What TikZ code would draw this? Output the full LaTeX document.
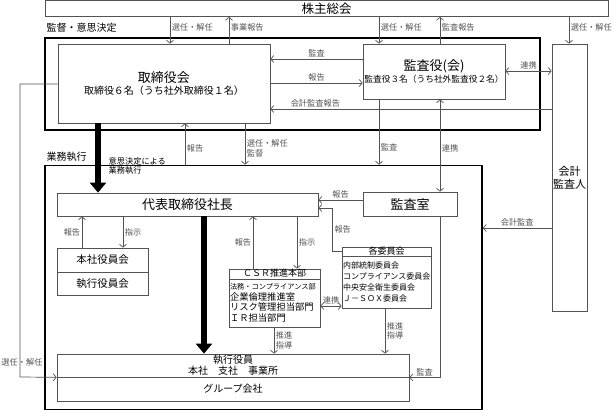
\documentclass[tikz,border=0pt]{standalone}
\usepackage{fontspec}
\setmainfont{Noto Sans CJK JP}
\usetikzlibrary{arrows.meta}

\colorlet{lc}{gray!65!black}
\tikzset{
  box/.style={draw=lc, line width=.7pt, inner sep=0pt, align=center},
  frm/.style={draw=black, line width=1.6pt, inner sep=0pt},
  lbl/.style={font=\fontsize{8.2}{9.5}\selectfont, inner sep=1.5pt, align=left},
  arr/.style={lc, line width=.7pt, -{Straight Barb[length=3pt,width=7pt]}},
  darr/.style={lc, line width=.7pt, {Straight Barb[length=3pt,width=7pt]}-{Straight Barb[length=3pt,width=7pt]}},
  fat/.style={black, line width=6pt, -{Triangle[length=10pt,width=16pt]}},
  big/.style={font=\fontsize{13}{15}\selectfont},
  mid/.style={font=\fontsize{10}{11}\selectfont},
}

\begin{document}
\begin{tikzpicture}[x=1pt,y=-1pt]
  \useasboundingbox (0,0) rectangle (614,411);
  % frames
  \node[frm, minimum width=495pt, minimum height=92pt] (kantoku) at (292.5,84) {};
  \node[lbl, anchor=west, font=\fontsize{10}{12}\selectfont] (kantokuL) at (45,28) {監督・意思決定};
  \node[frm, minimum width=437pt, minimum height=244pt] (gyomu) at (263.5,287.5) {};
  \node[lbl, anchor=west, font=\fontsize{10}{12}\selectfont] (gyomuL) at (45,157) {業務執行};
  \node[lbl, anchor=west] (ishiL) at (107,166) {意思決定による\\業務執行};
  % boxes
  \node[box, font=\fontsize{12.5}{14}\selectfont, minimum width=563pt, minimum height=16pt] (kabu) at (326.5,8.5) {株主総会};
  \node[box, minimum width=212pt, minimum height=79pt] (tori) at (164,83.5)
    {{\fontsize{13}{15}\selectfont 取締役会}\\{\fontsize{10}{12}\selectfont 取締役６名（うち社外取締役１名）}};
  \node[box, minimum width=142pt, minimum height=55pt] (kansayaku) at (434,71.5)
    {{\fontsize{13}{15}\selectfont 監査役(会)}\\{\fontsize{8.7}{11}\selectfont 監査役３名（うち社外監査役２名）}};
  \node[box, font=\fontsize{11}{13}\selectfont, minimum width=35pt, minimum height=267pt] (kaikei) at (569.5,177.5) {会計\\監査人};
  \node[box, big, minimum width=261pt, minimum height=23pt] (daihyo) at (187.5,204.5) {代表取締役社長};
  \node[box, big, minimum width=94pt, minimum height=24pt] (kansashitsu) at (410,204) {監査室};
  \node[box, font=\fontsize{10.5}{12}\selectfont, minimum width=91pt, minimum height=24pt] (honsha) at (102.5,260) {本社役員会};
  \node[box, font=\fontsize{10.5}{12}\selectfont, minimum width=91pt, minimum height=23pt] (shikko) at (102.5,283.5) {執行役員会};
  \node[box, font=\fontsize{9}{10}\selectfont, text height=7pt, text depth=1pt, minimum width=91pt, minimum height=10pt] (csrT) at (274.5,274) {ＣＳＲ推進本部};
  \node[box, font=\fontsize{9.3}{10.5}\selectfont, align=left, text width=89pt, minimum width=91pt, minimum height=48pt] (csrB) at (274.5,303)
    {{\fontsize{7.2}{8}\selectfont 法務・コンプライアンス部}\\企業倫理推進室\\リスク管理担当部門\\ＩＲ担当部門};
  \node[box, font=\fontsize{9}{10}\selectfont, text height=7pt, text depth=1pt, minimum width=89pt, minimum height=9pt] (iinT) at (386.5,251.5) {各委員会};
  \node[box, font=\fontsize{8}{10.7}\selectfont, align=left, text width=87pt, minimum width=89pt, minimum height=52pt] (iinB) at (386.5,282)
    {内部統制委員会\\コンプライアンス委員会\\中央安全衛生委員会\\Ｊ－ＳＯＸ委員会};
  \node[box, mid, minimum width=352pt, minimum height=23pt] (yakuin) at (233,365.5) {執行役員\\本社　支社　事業所};
  \node[box, mid, minimum width=352pt, minimum height=24pt] (group) at (233,389) {グループ会社};

  % connectors
  \path[arr]
    (kabu.south -| 170,0) edge node[lbl, right, pos=.4] {選任・解任} (tori.north -| 170,0)
    (tori.north -| 229,0) edge node[lbl, right, pos=.6] {事業報告} (kabu.south -| 229,0)
    (kabu.south -| 379,0) edge node[lbl, right, pos=.4] {選任・解任} (kansayaku.north -| 379,0)
    (kansayaku.north -| 440,0) edge node[lbl, right, pos=.6] {監査報告} (kabu.south -| 440,0)
    (kabu.south -| 569,0) edge node[lbl, right, pos=.4] {選任・解任} (kaikei.north -| 569,0)
    (kansayaku.west |- 0,59) edge node[lbl, above] {監査} (tori.east |- 0,59)
    (tori.east |- 0,83) edge node[lbl, above] {報告} (kansayaku.west |- 0,83)
    (kaikei.west |- 0,109) edge node[lbl, above, pos=.84] {会計監査報告} (tori.east |- 0,109)
    (gyomu.north -| 185,0) edge node[lbl, right, pos=.4] {報告} (tori.south -| 185,0)
    (tori.south -| 245,0) edge node[lbl, right, pos=.6] {選任・解任\\監督} (gyomu.north -| 245,0)
    (kansayaku.south -| 379,0) edge node[lbl, right, pos=.74] {監査} (gyomu.north -| 379,0)
    (kansashitsu.west |- 0,200) edge node[lbl, above] {報告} (daihyo.east |- 0,200)
    (kaikei.west |- 0,228) edge node[lbl, above] {会計監査} (gyomu.east |- 0,228)
    (honsha.north -| 82,0) edge node[lbl, left] {報告} (daihyo.south -| 82,0)
    (daihyo.south -| 123,0) edge node[lbl, right] {指示} (honsha.north -| 123,0)
    (csrT.north -| 253,0) edge node[lbl, left] {報告} (daihyo.south -| 253,0)
    (daihyo.south -| 297,0) edge node[lbl, right] {指示} (csrT.north -| 297,0)
    (csrB.south -| 274,0) edge node[lbl, right] {推進\\指導} (yakuin.north -| 274,0)
    (iinB.south -| 385,0) edge node[lbl, right] {推進\\指導} (yakuin.north -| 385,0);
  \path[darr]
    (kansayaku.east |- 0,71) edge node[lbl, above] {連携} (kaikei.west |- 0,71)
    (kansayaku.south -| 440,0) edge node[lbl, right, pos=.53] {連携} (kansashitsu.north -| 440,0)
    (csrB.east |- 0,306) edge node[lbl, above] {連携} (iinB.west |- 0,306);
  \draw[arr] (iinT.west) -- ++(-9,0) -- node[lbl, right] {報告} ++(0,-43.5) -- (daihyo.east |- 0,208);
  \draw[arr] (kansashitsu.south -| 440,0) |- node[lbl, above, pos=.75] {監査} (yakuin.south east);
  \draw[arr] (tori.west |- 0,84) -- (20,84) -- node[lbl, pos=.95, xshift=2pt] {選任・解任} (20,377) -- (yakuin.south west);
  \draw[fat] (tori.south -| 98,0) -- (daihyo.north -| 98,0);
  \draw[fat] (daihyo.south -| 204,0) -- (yakuin.north -| 204,0);
\end{tikzpicture}
\end{document}
